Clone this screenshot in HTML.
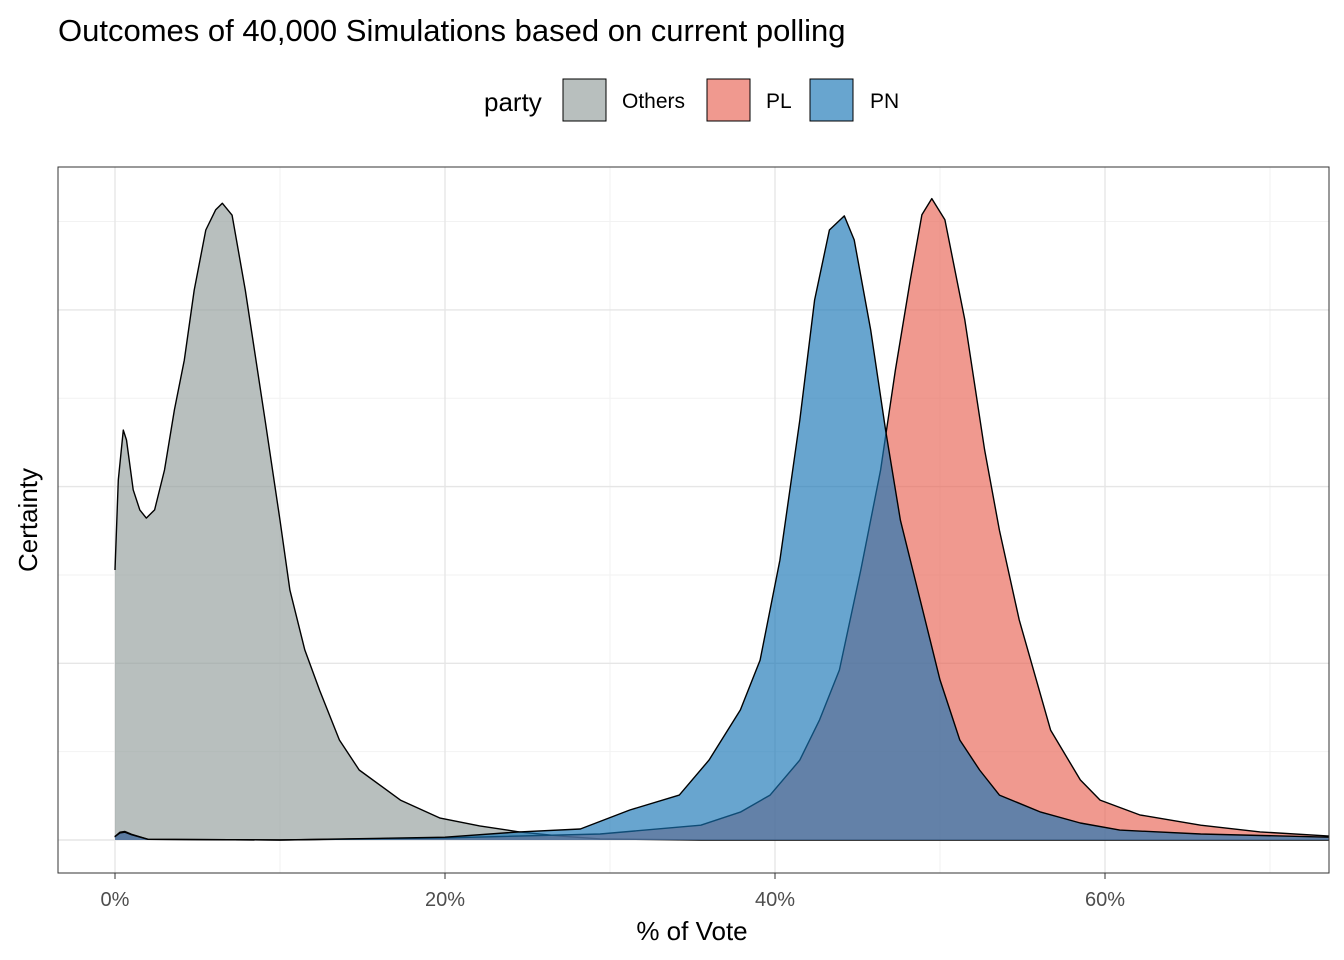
<!DOCTYPE html>
<html><head><meta charset="utf-8"><style>
body{margin:0;background:#fff;font-family:"Liberation Sans",Arial,sans-serif}
svg{display:block}
</style></head><body>
<svg id="c" width="1344" height="960" xmlns="http://www.w3.org/2000/svg">
<text x="58" y="41" font-size="31" fill="#000">Outcomes of 40,000 Simulations based on current polling</text>
<g>
<text x="484" y="111" font-size="26">party</text>
<rect x="563" y="79" width="43" height="42" fill="#929c9b" fill-opacity="0.65" stroke="#000" stroke-width="1"/>
<text x="622" y="108" font-size="21">Others</text>
<rect x="707" y="79" width="43" height="42" fill="#e86253" fill-opacity="0.65" stroke="#000" stroke-width="1"/>
<text x="766" y="108" font-size="21">PL</text>
<rect x="810" y="79" width="43" height="42" fill="#1774b5" fill-opacity="0.65" stroke="#000" stroke-width="1"/>
<text x="870" y="108" font-size="21">PN</text>
</g>
<g id="grid"></g>
<g id="areas"></g>
<rect x="58" y="167" width="1271" height="706" fill="none" stroke="#333" stroke-width="1"/>
<g id="axis"></g>
<text x="692" y="940" font-size="26" text-anchor="middle">% of Vote</text>
<text transform="translate(37,520) rotate(-90)" font-size="26" text-anchor="middle">Certainty</text>
</svg>
<script>
const xTicks=[0,20,40,60];
const xTickLabels=["0%","20%","40%","60%"];
const xMinor=[10,30,50,70];
const yMajor=[0,0.05,0.10,0.15];
const yMinor=[0.025,0.075,0.125,0.175];
const othersX=[0,0.2,0.5,0.7,1.1,1.5,1.9,2.4,3.0,3.6,4.2,4.8,5.5,6.1,6.5,7.1,7.9,9.1,10,10.6,11.5,12.4,13.6,14.8,17.3,19.7,22.1,24.5,27,29.4,35.5,50,73.6];
const othersY=[0.0764,0.1019,0.1160,0.1132,0.0991,0.0934,0.0911,0.0934,0.1047,0.1217,0.1358,0.1556,0.1726,0.1783,0.1802,0.1768,0.1556,0.1188,0.0905,0.0707,0.0538,0.0424,0.0283,0.0198,0.0113,0.0062,0.0040,0.0023,0.0011,0.0003,0,0,0];
const pnX=[0,0.3,0.6,1.0,2.0,10,20,24.5,28.2,31.2,34.2,36,37.9,39.1,40.3,41.5,42.4,43.3,44.2,44.8,45.8,46.7,47.6,48.8,50,51.2,52.4,53.6,56.1,58.5,60.9,65.8,73.6];
const pnY=[0.0010,0.0020,0.0022,0.0015,0.0002,0,0.0008,0.0023,0.0031,0.0085,0.0127,0.0226,0.0368,0.0509,0.0792,0.1188,0.1528,0.1726,0.1766,0.1698,0.1443,0.1160,0.0905,0.0679,0.0453,0.0283,0.0198,0.0127,0.0079,0.0048,0.0028,0.0017,0.0008];
const plX=[0,0.3,0.6,1.0,2.0,10,20,29.4,35.5,37.9,39.7,41.5,42.7,43.9,45.2,46.4,47.3,48.2,48.9,49.5,50.3,51.5,52.7,53.6,54.8,56.7,58.5,59.7,62.1,65.8,69.4,73.6];
const plY=[0.0010,0.0022,0.0024,0.0016,0.0002,0,0.0006,0.0017,0.0042,0.0079,0.0127,0.0226,0.0340,0.0481,0.0764,0.1047,0.1330,0.1585,0.1769,0.1815,0.1755,0.1472,0.1104,0.0877,0.0623,0.0311,0.0170,0.0113,0.0071,0.0042,0.0023,0.0011];
const NS="http://www.w3.org/2000/svg";
const X=v=>115+16.5*v;
const Y=v=>840-v*3534;
function mk(tag,attrs,parent){const e=document.createElementNS(NS,tag);for(const k in attrs)e.setAttribute(k,attrs[k]);parent.appendChild(e);return e;}
const grid=document.getElementById('grid'),areas=document.getElementById('areas'),axis=document.getElementById('axis');
yMinor.forEach(v=>{const l=mk('line',{x1:58,x2:1329,y1:Y(v),y2:Y(v),stroke:'#f2f2f2','stroke-width':1},grid);

});
xMinor.forEach(v=>{const l=mk('line',{x1:X(v),x2:X(v),y1:167,y2:873,stroke:'#f2f2f2','stroke-width':1},grid);

});
yMajor.forEach(v=>{const l=mk('line',{x1:58,x2:1329,y1:Y(v),y2:Y(v),stroke:'#e6e6e6','stroke-width':1.4},grid);

});
xTicks.forEach((v,i)=>{const l=mk('line',{x1:X(v),x2:X(v),y1:167,y2:873,stroke:'#e6e6e6','stroke-width':1.4},grid);


const t=mk('line',{x1:X(v),x2:X(v),y1:873,y2:879,stroke:'#333','stroke-width':1},axis);


const tx=mk('text',{x:X(v),y:906,'font-size':20,'text-anchor':'middle',fill:'#4d4d4d'},axis);
tx.textContent=xTickLabels[i];

});
function area(xs,ys,fill,name){
let d='M'+X(xs[0])+','+Y(0);
xs.forEach((x,i)=>{d+=' L'+X(x).toFixed(1)+','+Y(ys[i]).toFixed(1);});
d+=' L'+X(xs[xs.length-1])+','+Y(0)+' Z';
const p=mk('path',{d:d,fill:fill,'fill-opacity':0.65,stroke:'none'},areas);


let d2='M'+X(xs[0])+','+Y(ys[0]);
xs.forEach((x,i)=>{d2+=' L'+X(x).toFixed(1)+','+Y(ys[i]).toFixed(1);});
const o=mk('path',{d:d2,fill:'none',stroke:'#000','stroke-width':1.4,'stroke-linejoin':'round'},areas);

}
area(othersX,othersY,'#929c9b','others');
area(plX,plY,'#e86253','pl');
area(pnX,pnY,'#1774b5','pn');
</script>
</body></html>
